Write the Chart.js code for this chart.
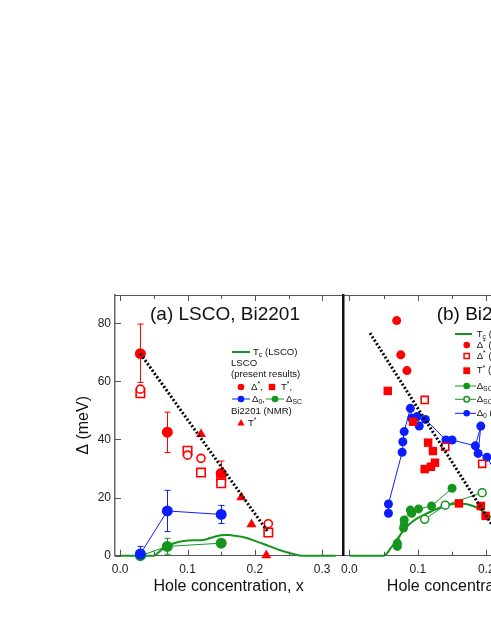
<!DOCTYPE html>
<html>
<head>
<meta charset="utf-8">
<script src="https://cdn.jsdelivr.net/npm/chart.js@4.4.0/dist/chart.umd.min.js"></script>
<style>
  html, body { margin: 0; padding: 0; background: #fff; }
  body { width: 491px; height: 635px; overflow: hidden; position: relative; }
  canvas { position: absolute; }
  #chartA { left: 0; top: 270px; }
  #chartB { left: 330px; top: 270px; }
</style>
</head>
<body>
<canvas id="chartA" width="350" height="330"></canvas>
<canvas id="chartB" width="270" height="330"></canvas>
<script>
// ---- tick labels ----
const xTicks = [0.0, 0.1, 0.2, 0.3];
const yTicks = [0, 20, 40, 60, 80];

// ---- panel (a) LSCO, Bi2201 ----
const aTcX = [0, 0.05, 0.06, 0.07, 0.08, 0.09, 0.10, 0.11, 0.12, 0.13, 0.14, 0.15, 0.16, 0.17, 0.18, 0.19, 0.20, 0.21, 0.22, 0.23, 0.24, 0.25, 0.26, 0.27, 0.32];
const aTcY = [0, 0, 1.8, 3.4, 4.3, 4.9, 5.2, 5.3, 5.3, 5.8, 6.5, 7.0, 7.1, 6.9, 6.5, 5.9, 5.1, 4.3, 3.4, 2.5, 1.7, 1.0, 0.4, 0, 0];

const aDeltaStarX = [0.03, 0.07, 0.15];
const aDeltaStarY = [69.5, 42.5, 28.3];
const aDeltaStarLo = [59.6, 35.5, 24.5];
const aDeltaStarHi = [79.7, 49.4, 32.6];

const aOpenCircleX = [0.03, 0.10, 0.12, 0.22];
const aOpenCircleY = [57.3, 34.6, 33.5, 11.0];

const aOpenSquareX = [0.03, 0.10, 0.12, 0.15, 0.15, 0.22];
const aOpenSquareY = [55.9, 36.1, 28.6, 27.2, 24.9, 8.0];

const aNmrX = [0.12, 0.15, 0.18, 0.195, 0.217];
const aNmrY = [41.8, 28.5, 20.1, 10.8, 0.1];

const aDelta0X = [0.03, 0.07, 0.15];
const aDelta0Y = [0.6, 15.4, 14.2];
const aDelta0Lo = [0, 8.3, 11.1];
const aDelta0Hi = [3.2, 22.5, 17.3];

const aDeltaScX = [0.03, 0.07, 0.15];
const aDeltaScY = [0, 3.2, 4.3];
const aDeltaScLo = [null, 0.5, null];
const aDeltaScHi = [null, 6.0, null];

const aGuideX = [0.03, 0.219];
const aGuideY = [69.5, 8.3];

// ---- panel (b) Bi2212 ----
const bTcX = [0, 0.05, 0.06, 0.07, 0.08, 0.09, 0.10, 0.11, 0.12, 0.14, 0.16, 0.18, 0.20, 0.22, 0.24, 0.26, 0.27, 0.33];
const bTcY = [0, 0, 2.5, 5.8, 9.0, 11.3, 13.0, 14.2, 15.3, 17.2, 18.0, 17.2, 14.5, 10.5, 5.5, 1.5, 0, 0];

const bDeltaStarX = [0.069, 0.075, 0.084];
const bDeltaStarY = [80.9, 69.1, 63.7];

const bOpenSquareX = [0.110, 0.140, 0.194];
const bOpenSquareY = [53.6, 37.5, 31.6];

const bTStarX = [0.056, 0.093, 0.110, 0.115, 0.119, 0.122, 0.125, 0.160, 0.192, 0.199];
const bTStarY = [56.7, 46.1, 29.8, 38.9, 30.6, 36.0, 32.0, 18.0, 17.1, 13.7];

const bDelta0X = [0.057, 0.057, 0.077, 0.078, 0.080, 0.089, 0.091, 0.099, 0.102, 0.111, 0.141, 0.150, 0.184, 0.192, 0.188, 0.201, 0.215];
const bDelta0Y = [14.6, 17.8, 35.6, 39.2, 42.7, 50.7, 47.3, 47.9, 44.6, 46.9, 39.8, 39.8, 37.8, 44.6, 35.2, 33.9, 28.0];

const bDeltaScX = [0.070, 0.070, 0.079, 0.080, 0.080, 0.089, 0.091, 0.101, 0.120, 0.150];
const bDeltaScY = [3.2, 4.3, 9.5, 10.6, 12.3, 15.7, 14.6, 16.1, 17.1, 23.2];

const bDeltaScOpenX = [0.110, 0.140, 0.194];
const bDeltaScOpenY = [12.5, 17.4, 21.7];

const bGuideX = [0.030, 0.22];
const bGuideY = [76.6, 6.3];

// ---- styles ----
const FONT = '"Liberation Sans", Arial, Helvetica, sans-serif';
const RED = '#ff0000';
const BLUE = '#0a1eff';
const GREEN = '#14961e';
const AXIS = '#555';

function pts(xs, ys) {
    return xs.map((x, i) => ({ x: x, y: ys[i] }));
}

function richText(ctx, x, y, parts, size) {
    let cx = x;
    parts.forEach(([t, mode]) => {
        const s = mode ? size * 0.72 : size;
        ctx.font = s + 'px ' + FONT;
        const dy = mode === 'sub' ? size * 0.3 : (mode === 'sup' ? -size * 0.3 : 0);
        ctx.fillText(t, cx, y + dy);
        cx += ctx.measureText(t).width;
    });
    return cx;
}

function marker(ctx, style, x, y, r, fill, stroke, lw) {
    ctx.save();
    ctx.beginPath();
    if (style === 'circle') {
        ctx.arc(x, y, r, 0, Math.PI * 2);
    } else if (style === 'rect') {
        ctx.rect(x - r, y - r, 2 * r, 2 * r);
    } else if (style === 'triangle') {
        ctx.moveTo(x, y - r * 1.1);
        ctx.lineTo(x + r, y + r * 0.7);
        ctx.lineTo(x - r, y + r * 0.7);
        ctx.closePath();
    }
    ctx.fillStyle = fill;
    ctx.fill();
    if (stroke) {
        ctx.lineWidth = lw || 1;
        ctx.strokeStyle = stroke;
        ctx.stroke();
    }
    ctx.restore();
}

function legendLine(ctx, x1, x2, y, color, width) {
    ctx.save();
    ctx.strokeStyle = color;
    ctx.lineWidth = width;
    ctx.beginPath();
    ctx.moveTo(x1, y);
    ctx.lineTo(x2, y);
    ctx.stroke();
    ctx.restore();
}

function drawLegendA(ctx) {
    ctx.fillStyle = '#111';
    ctx.textBaseline = 'middle';
    ctx.textAlign = 'left';
    const fs = 9.6;
    legendLine(ctx, 232, 250, 82, GREEN, 2);
    richText(ctx, 253, 82, [['T', ''], ['c', 'sub'], [' (LSCO)', '']], fs);
    richText(ctx, 231, 93, [['LSCO', '']], fs);
    richText(ctx, 231, 104, [['(present results)', '']], fs);
    marker(ctx, 'circle', 241, 117, 3.3, RED);
    richText(ctx, 251, 117, [['\u0394', ''], ['*', 'sup'], [',', '']], fs);
    marker(ctx, 'rect', 272, 117, 3.2, RED);
    richText(ctx, 281, 117, [['T', ''], ['*', 'sup'], [',', '']], fs);
    legendLine(ctx, 232, 250, 129, BLUE, 1);
    marker(ctx, 'circle', 241, 129, 3.3, BLUE);
    richText(ctx, 252, 129, [['\u0394', ''], ['0', 'sub'], [',', '']], fs);
    legendLine(ctx, 266, 284, 129, GREEN, 1);
    marker(ctx, 'circle', 275, 129, 3.3, GREEN);
    richText(ctx, 286, 129, [['\u0394', ''], ['SC', 'sub']], fs);
    ctx.fillStyle = '#111';
    richText(ctx, 231, 141, [['Bi2201 (NMR)', '']], fs);
    marker(ctx, 'triangle', 241, 153, 3.6, RED);
    ctx.fillStyle = '#111';
    richText(ctx, 248, 153, [['T', ''], ['*', 'sup']], fs);
}

function drawLegendB(ctx) {
    ctx.textBaseline = 'middle';
    ctx.textAlign = 'left';
    const fs = 9.6;
    const tx = 146.7;
    legendLine(ctx, 125, 142, 64, GREEN, 2);
    ctx.fillStyle = '#111';
    richText(ctx, tx, 64, [['T', ''], ['c', 'sub'], [' (Bi2212)', '']], fs);
    marker(ctx, 'circle', 136.7, 75, 3.3, RED);
    ctx.fillStyle = '#111';
    richText(ctx, tx, 75, [['\u0394', ''], ['*', 'sup'], [' (ARPES)', '']], fs);
    marker(ctx, 'rect', 136.7, 86, 2.6, '#fff', RED, 1.5);
    ctx.fillStyle = '#111';
    richText(ctx, tx, 86, [['\u0394', ''], ['*', 'sup'], [' (STM)', '']], fs);
    marker(ctx, 'rect', 136.7, 100.7, 3.4, RED);
    ctx.fillStyle = '#111';
    richText(ctx, tx, 100.7, [['T', ''], ['*', 'sup'], [' (NMR)', '']], fs);
    legendLine(ctx, 125, 146, 116, GREEN, 1);
    marker(ctx, 'circle', 136.7, 116, 3.3, GREEN);
    ctx.fillStyle = '#111';
    richText(ctx, tx, 116, [['\u0394', ''], ['SC', 'sub'], [' (ARPES)', '']], fs);
    legendLine(ctx, 125, 146, 129.3, GREEN, 1);
    marker(ctx, 'circle', 136.7, 129.3, 2.8, '#fff', GREEN, 1.5);
    ctx.fillStyle = '#111';
    richText(ctx, tx, 129.3, [['\u0394', ''], ['SC', 'sub'], [' (Raman)', '']], fs);
    legendLine(ctx, 125, 146, 143.3, BLUE, 1);
    marker(ctx, 'circle', 136.7, 143.3, 3.3, BLUE);
    ctx.fillStyle = '#111';
    richText(ctx, tx, 143.3, [['\u0394', ''], ['0', 'sub'], [' (ARPES)', '']], fs);
}

// error bars, inside ticks, top frame, panel title, legend
const decorPlugin = {
    id: 'decor',
    beforeDatasetsDraw(chart) {
        const ctx = chart.ctx;
        const xs = chart.scales.x, ys = chart.scales.y;
        chart.data.datasets.forEach(ds => {
            if (!ds.errLo) return;
            ctx.save();
            ctx.strokeStyle = ds.errColor;
            ctx.lineWidth = 1;
            ds.data.forEach((p, i) => {
                if (ds.errLo[i] === null) return;
                const px = Math.round(xs.getPixelForValue(p.x)) + 0.5;
                const lo = ys.getPixelForValue(ds.errLo[i]);
                const hi = ys.getPixelForValue(ds.errHi[i]);
                ctx.beginPath();
                ctx.moveTo(px, lo);
                ctx.lineTo(px, hi);
                ctx.moveTo(px - 3, lo);
                ctx.lineTo(px + 3, lo);
                ctx.moveTo(px - 3, hi);
                ctx.lineTo(px + 3, hi);
                ctx.stroke();
            });
            ctx.restore();
        });
    },
    afterDraw(chart, args, opts) {
        const ctx = chart.ctx;
        const ca = chart.chartArea;
        const xs = chart.scales.x, ys = chart.scales.y;
        ctx.save();
        ctx.strokeStyle = AXIS;
        ctx.lineWidth = 1;
        ctx.beginPath();
        ctx.moveTo(ca.left, ca.top + 0.5);
        ctx.lineTo(ca.right, ca.top + 0.5);
        for (let k = 0; k * 0.05 <= xs.max; k++) {
            const px = Math.round(xs.getPixelForValue(k * 0.05)) + 0.5;
            const len = k % 2 === 0 ? 6 : 4;
            ctx.moveTo(px, ca.bottom);
            ctx.lineTo(px, ca.bottom - len);
            ctx.moveTo(px, ca.top);
            ctx.lineTo(px, ca.top + len);
        }
        if (opts.yTicks) {
            yTicks.forEach(v => {
                const py = Math.round(ys.getPixelForValue(v)) + 0.5;
                ctx.moveTo(ca.left, py);
                ctx.lineTo(ca.left + 6, py);
            });
        }
        ctx.stroke();
        ctx.fillStyle = '#111';
        ctx.font = '19px ' + FONT;
        ctx.textBaseline = 'middle';
        ctx.textAlign = 'left';
        ctx.fillText(opts.title, opts.titleX, 45);
        opts.legend(ctx);
        ctx.restore();
    }
};

function xScale(min, max, showTitle) {
    return {
        type: 'linear',
        min: min,
        max: max,
        afterBuildTicks: s => { s.ticks = xTicks.map(v => ({ value: v })); },
        afterFit: s => { s.height = 44.3; },
        grid: { drawOnChartArea: false, drawTicks: false },
        border: { display: true, color: AXIS, width: 1 },
        ticks: {
            padding: 7,
            color: '#222',
            font: { family: FONT, size: 12 },
            callback: v => v.toFixed(1)
        },
        title: {
            display: showTitle,
            text: 'Hole concentration, x',
            color: '#111',
            font: { family: FONT, size: 16 }
        }
    };
}

function baseOptions(xMin, xMax, yAxis, padding, decor) {
    return {
        responsive: false,
        animation: false,
        layout: { padding: padding },
        plugins: { legend: { display: false }, tooltip: { enabled: false }, decor: decor },
        scales: { x: xScale(xMin, xMax, true), y: yAxis }
    };
}

const lineDefaults = { pointRadius: 0, showLine: true, clip: false };

// ---- chart (a) ----
new Chart(document.getElementById('chartA').getContext('2d'), {
    type: 'scatter',
    data: {
        datasets: [
            Object.assign({}, lineDefaults, { data: pts(aGuideX, aGuideY), borderColor: '#000', borderWidth: 3, borderDash: [2, 2] }),
            { data: pts(aNmrX, aNmrY), pointStyle: 'triangle', pointRadius: 5.8, pointBackgroundColor: RED, pointBorderColor: RED, pointBorderWidth: 0, clip: false },
            { data: pts(aDeltaStarX, aDeltaStarY), errLo: aDeltaStarLo, errHi: aDeltaStarHi, errColor: RED, pointRadius: 5.5, pointBackgroundColor: RED, pointBorderColor: RED, pointBorderWidth: 0, clip: false },
            { data: pts(aOpenCircleX, aOpenCircleY), pointRadius: 4, pointBackgroundColor: '#fff', pointBorderColor: RED, pointBorderWidth: 1.6, clip: false },
            { data: pts(aOpenSquareX, aOpenSquareY), pointStyle: 'rect', pointRadius: 6, pointBackgroundColor: '#fff', pointBorderColor: RED, pointBorderWidth: 1.6, clip: false },
            { data: pts(aDelta0X, aDelta0Y), errLo: aDelta0Lo, errHi: aDelta0Hi, errColor: BLUE, showLine: true, borderColor: BLUE, borderWidth: 1, pointRadius: 5.5, pointBackgroundColor: BLUE, pointBorderColor: BLUE, pointBorderWidth: 0, clip: false },
            { data: pts(aDeltaScX, aDeltaScY), errLo: aDeltaScLo, errHi: aDeltaScHi, errColor: GREEN, showLine: true, borderColor: GREEN, borderWidth: 1, pointRadius: 5.5, pointBackgroundColor: GREEN, pointBorderColor: GREEN, pointBorderWidth: 0, clip: false },
            Object.assign({}, lineDefaults, { data: pts(aTcX, aTcY), borderColor: GREEN, borderWidth: 2, tension: 0.3 })
        ]
    },
    options: baseOptions(-0.0077, 0.33, {
        type: 'linear',
        min: 0,
        max: 89.7,
        afterBuildTicks: s => { s.ticks = yTicks.map(v => ({ value: v })); },
        afterFit: s => { s.width = 45; },
        grid: { drawOnChartArea: false, drawTicks: false },
        border: { display: true, color: '#666', width: 1.5 },
        ticks: { padding: 4, color: '#222', font: { family: FONT, size: 12 } },
        title: { display: true, text: '\u0394 (meV)', color: '#111', font: { family: FONT, size: 16 } }
    }, { top: 25, right: 7, left: 70, bottom: 0 },
    { title: '(a) LSCO, Bi2201', titleX: 150, yTicks: true, legend: drawLegendA }),
    plugins: [decorPlugin]
});

// ---- chart (b) ----
new Chart(document.getElementById('chartB').getContext('2d'), {
    type: 'scatter',
    data: {
        datasets: [
            Object.assign({}, lineDefaults, { data: pts(bGuideX, bGuideY), borderColor: '#000', borderWidth: 3, borderDash: [2, 2] }),
            { data: pts(bTStarX, bTStarY), pointStyle: 'rect', pointRadius: 6, pointBackgroundColor: RED, pointBorderColor: RED, pointBorderWidth: 0, clip: false },
            { data: pts(bDeltaStarX, bDeltaStarY), pointRadius: 4.5, pointBackgroundColor: RED, pointBorderColor: RED, pointBorderWidth: 0, clip: false },
            { data: pts(bOpenSquareX, bOpenSquareY), pointStyle: 'rect', pointRadius: 5, pointBackgroundColor: '#fff', pointBorderColor: RED, pointBorderWidth: 1.6, clip: false },
            { data: pts(bDeltaScOpenX, bDeltaScOpenY), showLine: true, borderColor: GREEN, borderWidth: 1, pointRadius: 4, pointBackgroundColor: '#fff', pointBorderColor: GREEN, pointBorderWidth: 1.5, clip: false },
            { data: pts(bDeltaScX, bDeltaScY), showLine: true, borderColor: GREEN, borderWidth: 1, pointRadius: 4.5, pointBackgroundColor: GREEN, pointBorderColor: GREEN, pointBorderWidth: 0, clip: false },
            { data: pts(bDelta0X, bDelta0Y), showLine: true, borderColor: BLUE, borderWidth: 1, pointRadius: 4.5, pointBackgroundColor: BLUE, pointBorderColor: BLUE, pointBorderWidth: 0, clip: false },
            Object.assign({}, lineDefaults, { data: pts(bTcX, bTcY), borderColor: GREEN, borderWidth: 2, tension: 0.3 })
        ]
    },
    options: baseOptions(-0.009, 0.338, {
        type: 'linear',
        min: 0,
        max: 89.7,
        afterBuildTicks: s => { s.ticks = yTicks.map(v => ({ value: v })); },
        afterFit: s => { s.width = 13.3; },
        grid: { drawOnChartArea: false, drawTicks: false },
        border: { display: true, color: '#111', width: 2.5 },
        ticks: { display: false }
    }, { top: 25, right: 19.3, left: 0, bottom: 0 },
    { title: '(b) Bi2212', titleX: 106.7, yTicks: false, legend: drawLegendB }),
    plugins: [decorPlugin]
});
</script>
</body>
</html>
